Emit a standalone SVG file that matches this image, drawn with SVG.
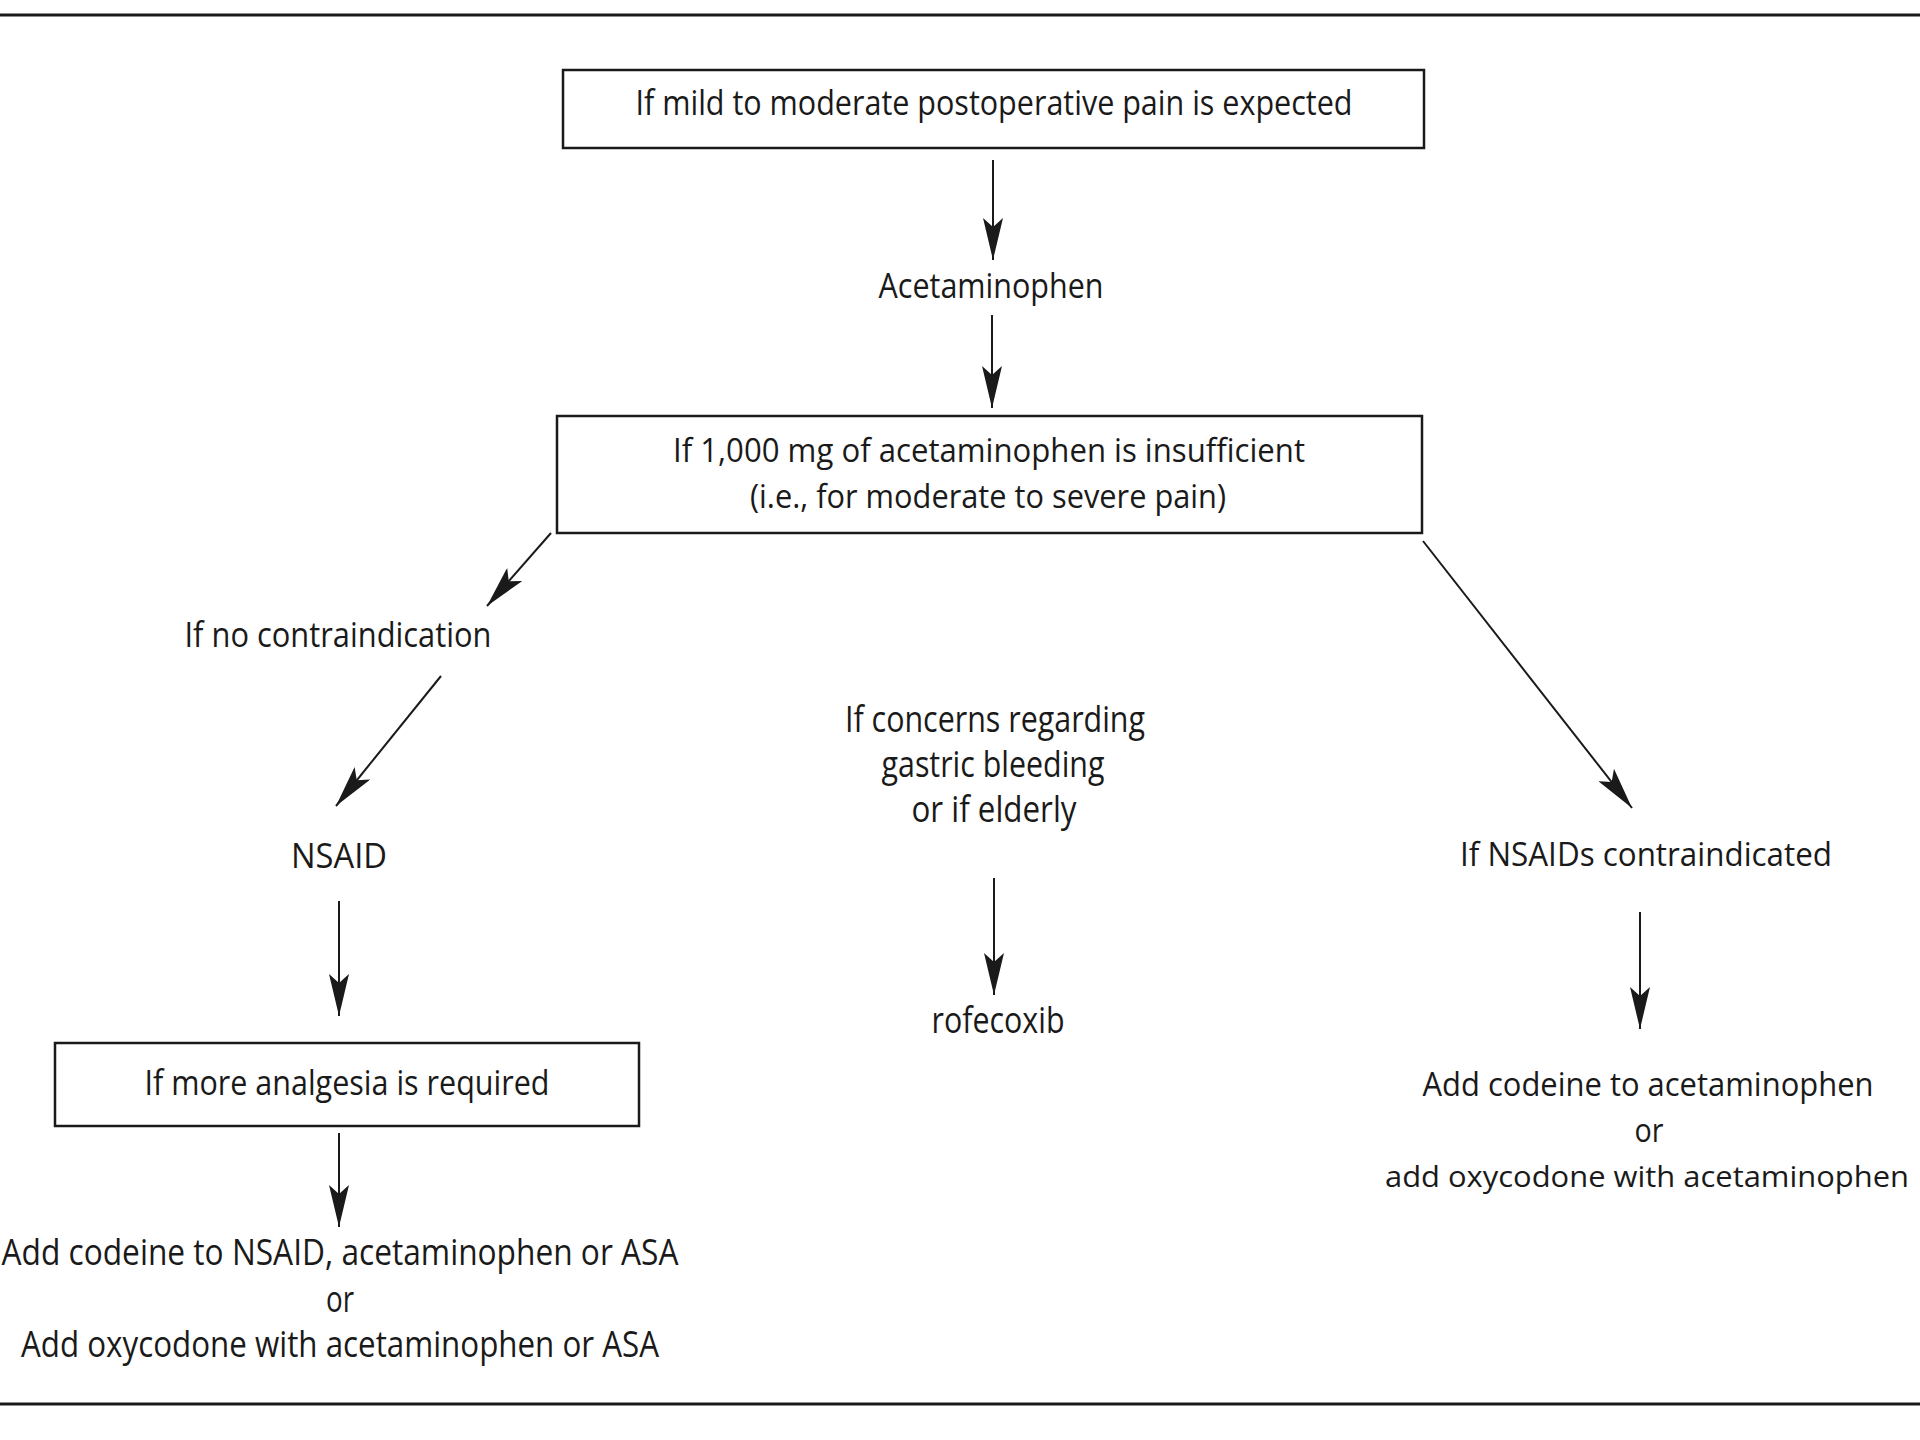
<svg xmlns="http://www.w3.org/2000/svg" width="1920" height="1440" viewBox="0 0 1920 1440">
<style>
  text { font-family: "Open Sans", "Liberation Sans", sans-serif; font-size: 35px; fill: #1a1a1a; text-anchor: middle; }
  .sm { font-size: 33px; }
  .lg { font-size: 36px; }
  .rt { font-size: 32px; }
  .rs { font-size: 30px; }
  .box { fill: #ffffff; stroke: #1a1a1a; stroke-width: 2.5; }
  .rule { stroke: #1a1a1a; stroke-width: 3; }
  .conn { stroke: #1a1a1a; stroke-width: 2; fill: none; marker-end: url(#arrow); }
</style>
<defs>
  <marker id="arrow" markerUnits="userSpaceOnUse" markerWidth="44" markerHeight="20" viewBox="0 0 44 20" refX="42" refY="10" orient="auto">
    <path d="M0,0 L42,10 L0,20 L9,10 Z" fill="#1a1a1a"/>
  </marker>
</defs>
<rect x="0" y="0" width="1920" height="1440" fill="#ffffff"/>
<line class="rule" x1="0" y1="15" x2="1920" y2="15"/>
<line class="rule" x1="0" y1="1404" x2="1920" y2="1404"/>

<g id="connectors">
  <line class="conn" x1="993" y1="160" x2="993" y2="260"/>
  <line class="conn" x1="992" y1="315" x2="992" y2="408"/>
  <line class="conn" x1="551" y1="533" x2="487" y2="606"/>
  <line class="conn" x1="441" y1="676" x2="336" y2="806"/>
  <line class="conn" x1="339" y1="901" x2="339" y2="1016"/>
  <line class="conn" x1="339" y1="1133" x2="339" y2="1227"/>
  <line class="conn" x1="994" y1="878" x2="994" y2="995"/>
  <line class="conn" x1="1423" y1="541" x2="1632" y2="808"/>
  <line class="conn" x1="1640" y1="912" x2="1640" y2="1029"/>
</g>

<g id="n-mild">
  <rect class="box" x="563" y="70" width="861" height="78"/>
  <text x="994" y="115" textLength="717" lengthAdjust="spacingAndGlyphs">If mild to moderate postoperative pain is expected</text>
</g>
<g id="n-acetaminophen">
  <text x="991" y="298" textLength="225" lengthAdjust="spacingAndGlyphs">Acetaminophen</text>
</g>
<g id="n-insufficient">
  <rect class="box" x="557" y="416" width="865" height="117"/>
  <text class="sm" x="989" y="462" textLength="632" lengthAdjust="spacingAndGlyphs">If 1,000 mg of acetaminophen is insufficient</text>
  <text class="sm" x="988" y="508" textLength="476" lengthAdjust="spacingAndGlyphs">(i.e., for moderate to severe pain)</text>
</g>
<g id="n-nocontra">
  <text x="338" y="647" textLength="307" lengthAdjust="spacingAndGlyphs">If no contraindication</text>
</g>
<g id="n-nsaid">
  <text x="339" y="868" textLength="96" lengthAdjust="spacingAndGlyphs">NSAID</text>
</g>
<g id="n-more">
  <rect class="box" x="55" y="1043" width="584" height="83"/>
  <text x="347" y="1095" textLength="405" lengthAdjust="spacingAndGlyphs">If more analgesia is required</text>
</g>
<g id="n-add-left">
  <text class="lg" x="340" y="1265" textLength="677" lengthAdjust="spacingAndGlyphs">Add codeine to NSAID, acetaminophen or ASA</text>
  <text class="lg" x="340" y="1312" textLength="28" lengthAdjust="spacingAndGlyphs">or</text>
  <text class="lg" x="340" y="1357" textLength="638" lengthAdjust="spacingAndGlyphs">Add oxycodone with acetaminophen or ASA</text>
</g>
<g id="n-concerns">
  <text class="lg" x="995" y="732" textLength="300" lengthAdjust="spacingAndGlyphs">If concerns regarding</text>
  <text class="lg" x="993" y="777" textLength="223" lengthAdjust="spacingAndGlyphs">gastric bleeding</text>
  <text class="lg" x="994" y="822" textLength="165" lengthAdjust="spacingAndGlyphs">or if elderly</text>
</g>
<g id="n-rofecoxib">
  <text class="lg" x="998" y="1033" textLength="133" lengthAdjust="spacingAndGlyphs">rofecoxib</text>
</g>
<g id="n-nsaids-contra">
  <text class="rt" x="1646" y="866" textLength="372" lengthAdjust="spacingAndGlyphs">If NSAIDs contraindicated</text>
</g>
<g id="n-add-right">
  <text class="rt" x="1648" y="1096" textLength="451" lengthAdjust="spacingAndGlyphs">Add codeine to acetaminophen</text>
  <text class="rt" x="1649" y="1142" textLength="29" lengthAdjust="spacingAndGlyphs">or</text>
  <text class="rs" x="1647" y="1187" textLength="524" lengthAdjust="spacingAndGlyphs">add oxycodone with acetaminophen</text>
</g>
</svg>
